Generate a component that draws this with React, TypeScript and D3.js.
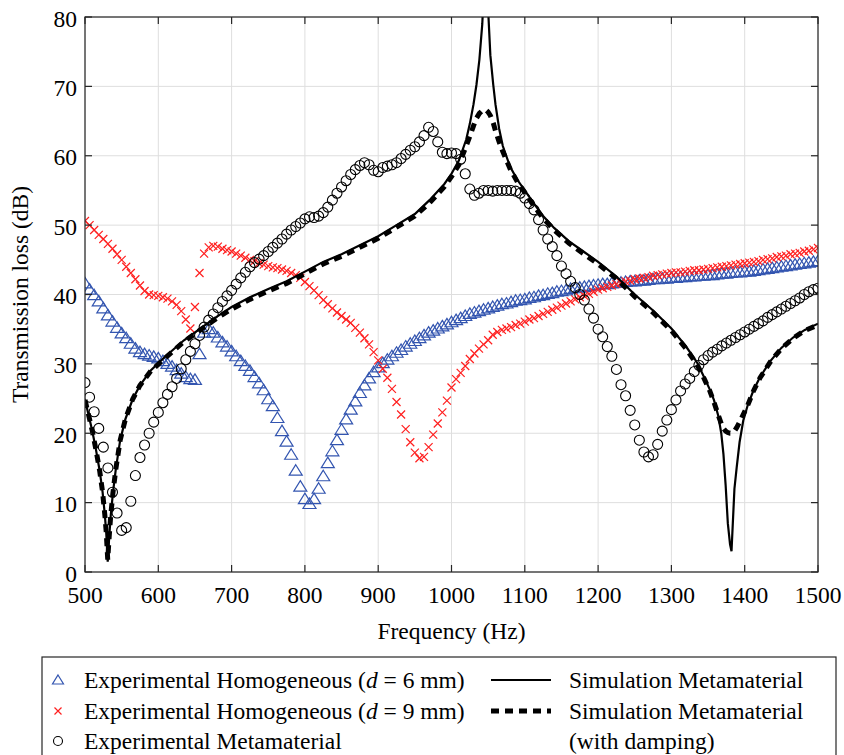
import React, { useEffect, useRef } from 'react';
import * as d3 from 'd3';

const W = 844;
const H = 755;
const font = '"Liberation Serif", "Times New Roman", serif';

// measured frequencies (Hz), 6.25 Hz step
const expFreq: number[] = d3.range(0, 161).map(i => 500 + i * 6.25);

// Experimental Homogeneous (d = 6 mm)
const homog6 = [
	41.6, 40.7, 39.9, 39.0, 38.0, 37.0, 36.1, 35.2,
	34.4, 33.7, 32.9, 32.2, 31.7, 31.4, 31.2, 31.0,
	30.8, 30.4, 30.0, 29.6, 29.1, 28.6, 28.1, 27.8,
	27.7, 31.4, 34.5, 35.0, 34.5, 33.8, 33.1, 32.5,
	31.8, 31.1, 30.4, 29.7, 29.0, 28.1, 27.2, 26.2,
	24.9, 23.9, 22.2, 20.3, 18.8, 16.9, 14.6, 12.3,
	10.5, 9.8, 10.5, 12.0, 13.8, 15.7, 17.4, 19.0,
	20.5, 22.0, 23.4, 24.6, 25.8, 26.9, 27.9, 28.8,
	29.5, 30.1, 30.6, 31.1, 31.6, 32.0, 32.5, 32.9,
	33.3, 33.7, 34.1, 34.5, 34.8, 35.1, 35.4, 35.7,
	36.0, 36.3, 36.6, 36.9, 37.2, 37.4, 37.6, 37.8,
	38.0, 38.2, 38.4, 38.6, 38.7, 38.9, 39.1, 39.2,
	39.3, 39.5, 39.6, 39.8, 39.9, 40.1, 40.2, 40.4,
	40.5, 40.6, 40.8, 40.9, 41.0, 41.1, 41.2, 41.3,
	41.4, 41.5, 41.5, 41.6, 41.7, 41.7, 41.8, 41.9,
	41.9, 42.0, 42.0, 42.1, 42.2, 42.2, 42.3, 42.3,
	42.4, 42.4, 42.5, 42.5, 42.6, 42.6, 42.7, 42.7,
	42.8, 42.8, 42.9, 43.0, 43.0, 43.1, 43.2, 43.2,
	43.3, 43.3, 43.4, 43.5, 43.6, 43.7, 43.8, 43.9,
	44.0, 44.1, 44.2, 44.3, 44.4, 44.5, 44.6, 44.7,
	44.8,
];

// Experimental Homogeneous (d = 9 mm)
const homog9 = [
	50.6, 50.0, 49.3, 48.6, 48.0, 47.3, 46.6, 45.8,
	45.0, 44.0, 43.1, 42.2, 41.3, 40.5, 40.0, 39.9,
	39.8, 39.6, 39.4, 39.0, 38.5, 37.6, 36.4, 35.1,
	38.2, 43.1, 45.9, 46.8, 47.0, 46.9, 46.6, 46.4,
	46.2, 45.9, 45.6, 45.3, 45.0, 44.8, 44.5, 44.3,
	44.1, 43.9, 43.8, 43.6, 43.4, 43.1, 42.8, 42.4,
	41.8, 41.2, 40.6, 39.9, 39.2, 38.6, 38.0, 37.4,
	36.9, 36.4, 35.9, 35.2, 34.5, 33.7, 32.8, 31.7,
	30.5, 29.3, 28.0, 26.4, 24.5, 22.7, 20.6, 18.7,
	17.2, 16.4, 16.6, 18.0, 19.8, 21.4, 23.0, 24.7,
	26.6, 27.8, 28.7, 29.7, 30.7, 31.5, 32.2, 32.8,
	33.4, 34.2, 34.6, 34.9, 35.1, 35.3, 35.6, 35.8,
	36.1, 36.4, 36.6, 36.9, 37.2, 37.5, 37.8, 38.1,
	38.4, 38.7, 39.0, 39.3, 39.6, 39.8, 40.1, 40.4,
	40.7, 40.9, 41.1, 41.3, 41.5, 41.7, 41.9, 42.0,
	42.2, 42.3, 42.4, 42.5, 42.7, 42.8, 42.9, 43.0,
	43.1, 43.2, 43.2, 43.3, 43.4, 43.5, 43.5, 43.6,
	43.7, 43.8, 43.9, 44.0, 44.1, 44.2, 44.3, 44.4,
	44.5, 44.6, 44.7, 44.8, 45.0, 45.1, 45.2, 45.4,
	45.5, 45.6, 45.8, 45.9, 46.0, 46.2, 46.3, 46.5,
	46.7,
];

// Experimental Metamaterial
const metaExp = [
	27.3, 25.2, 23.1, 20.7, 18.0, 15.0, 11.5, 8.5,
	6.0, 6.4, 10.2, 13.9, 16.5, 18.3, 20.0, 21.6,
	23.0, 24.4, 25.6, 26.7, 27.9, 29.3, 30.6, 31.8,
	32.9, 34.1, 35.3, 36.3, 37.2, 38.1, 39.0, 39.8,
	40.6, 41.5, 42.4, 43.2, 44.0, 44.6, 45.1, 45.6,
	46.2, 46.8, 47.4, 48.0, 48.7, 49.3, 49.8, 50.3,
	50.9, 51.2, 51.1, 51.3, 51.8, 52.6, 53.6, 54.6,
	55.5, 56.4, 57.3, 58.0, 58.6, 59.0, 58.7, 57.9,
	57.7, 58.3, 58.5, 58.7, 59.0, 59.6, 60.2, 60.8,
	61.3, 62.0, 62.9, 64.1, 63.5, 62.0, 60.5, 60.3,
	60.4, 60.3, 59.5, 57.4, 55.2, 54.3, 54.6, 55.0,
	55.0, 54.9, 55.0, 55.0, 55.0, 55.0, 54.9, 54.6,
	53.9, 53.1, 52.2, 50.8, 49.3, 48.0, 46.9, 45.6,
	44.1, 43.0, 41.9, 41.0, 40.0, 39.2, 37.9, 36.6,
	35.0, 33.9, 32.5, 31.1, 29.2, 27.0, 25.4, 23.3,
	21.2, 19.0, 17.3, 16.6, 16.9, 18.4, 20.3, 21.9,
	23.4, 24.8, 26.1, 27.1, 27.9, 28.9, 29.8, 30.6,
	31.2, 31.7, 32.1, 32.6, 33.0, 33.4, 33.8, 34.2,
	34.6, 35.0, 35.4, 35.8, 36.2, 36.7, 37.1, 37.5,
	37.9, 38.3, 38.7, 39.1, 39.5, 40.0, 40.4, 40.7,
	40.9,
];

// simulation curves
const simFreq = [
	500, 505, 510, 515, 520, 524, 527, 529, 531, 533, 535, 538, 542, 548, 555, 565, 575, 590,
	610, 635, 660, 680, 700, 725, 750, 775, 800, 825, 850, 875, 900, 925, 950, 970, 990,
	1000, 1010, 1020, 1025, 1030, 1034, 1038, 1042, 1045, 1047, 1050, 1053, 1057, 1060, 1065,
	1070, 1080, 1090, 1100, 1111, 1125, 1140, 1160, 1180, 1200, 1225, 1250, 1275, 1300, 1320,
	1335, 1345, 1352, 1358, 1364, 1368, 1371, 1374, 1377, 1380, 1382, 1386, 1389, 1393, 1398,
	1404, 1412, 1421, 1435, 1450, 1466, 1482, 1500,
];
const simPlain = [
	24.8, 22.6, 20.3, 17.6, 14.6, 11.5, 8.3, 5.6, 1.5, 5.0, 8.0, 11.3, 14.8, 19.0, 22.0, 24.9, 26.9, 29.1,
	31.1, 33.4, 35.3, 36.8, 38.2, 39.6, 40.8, 41.9, 43.3, 44.7, 45.8, 47.1, 48.4, 50.0, 51.6, 53.6, 55.9,
	57.4, 59.3, 62.3, 64.6, 67.4, 70.2, 73.8, 79.0, 86.0, 92.0, 81.0, 74.5, 70.2, 67.4, 63.9,
	61.4, 58.4, 56.5, 55.0, 53.3, 51.3, 49.6, 47.7, 46.2, 44.7, 42.6, 40.0, 37.7, 35.1, 32.5,
	30.2, 28.0, 26.4, 24.8, 22.5, 20.0, 17.0, 12.5, 7.0, 4.0, 3.0, 12.0, 15.0, 18.7, 21.8,
	24.0, 26.2, 28.1, 30.4, 32.3, 33.8, 34.9, 35.8,
];
const simDamped = [
	24.8, 22.6, 20.3, 17.6, 14.6, 11.5, 8.3, 5.7, 1.8, 5.1, 8.0, 11.3, 14.8, 19.0, 22.0, 24.9, 26.9, 29.0,
	30.9, 33.2, 35.1, 36.6, 37.9, 39.3, 40.5, 41.6, 43.0, 44.4, 45.5, 46.8, 48.1, 49.7, 51.3, 53.2, 55.5,
	57.0, 58.7, 61.4, 62.8, 64.3, 65.4, 66.1, 66.5, 66.6, 66.6, 66.3, 65.8, 64.7, 63.6, 62.0,
	60.6, 58.1, 56.2, 54.7, 53.0, 51.0, 49.3, 47.4, 45.9, 44.4, 42.3, 39.7, 37.4, 34.8, 32.2,
	29.9, 27.8, 26.2, 24.5, 22.6, 21.4, 20.7, 20.3, 20.1, 20.0, 20.0, 20.3, 20.8, 21.6, 22.7,
	24.0, 26.1, 28.0, 30.3, 32.2, 33.7, 34.8, 35.6,
];

const xTicks = [500, 600, 700, 800, 900, 1000, 1100, 1200, 1300, 1400, 1500];
const yTicks = [0, 10, 20, 30, 40, 50, 60, 70, 80];

const blue = '#3355b0';
const red = '#ff1f1f';
const axisColor = '#262626';

const triPath = 'M0,-6L6.5,4.5L-6.5,4.5Z';
const crossPath = 'M-4,-4L4,4M-4,4L4,-4';

export default function App() {
	const ref = useRef<SVGSVGElement>(null);

	useEffect(() => {
		const svg = d3.select(ref.current);
		svg.selectAll('*').remove();

		const x = d3.scaleLinear().domain([500, 1500]).range([85, 818]);
		const y = d3.scaleLinear().domain([0, 80]).range([572, 17]);
		const [x0, x1] = x.range();
		const [y0, y1] = y.range();

		svg.append('rect').attr('width', W).attr('height', H).attr('fill', '#fff');

		svg.append('clipPath')
			.attr('id', 'plotclip')
			.append('rect')
			.attr('x', x0)
			.attr('y', y1)
			.attr('width', x1 - x0)
			.attr('height', y0 - y1);

		// grid
		const grid = svg.append('g').attr('stroke', '#dedede').attr('stroke-width', 1);
		grid.selectAll('.gx')
			.data(xTicks)
			.enter()
			.append('line')
			.attr('x1', d => x(d))
			.attr('x2', d => x(d))
			.attr('y1', y0)
			.attr('y2', y1);
		grid.selectAll('.gy')
			.data(yTicks)
			.enter()
			.append('line')
			.attr('x1', x0)
			.attr('x2', x1)
			.attr('y1', d => y(d))
			.attr('y2', d => y(d));

		const plot = svg.append('g').attr('clip-path', 'url(#plotclip)');

		// blue triangles
		plot.append('g')
			.selectAll('path')
			.data(expFreq.map((f, i) => [f, homog6[i]]))
			.enter()
			.append('path')
			.attr('d', triPath)
			.attr('transform', d => `translate(${x(d[0])},${y(d[1])})`)
			.attr('fill', 'none')
			.attr('stroke', blue)
			.attr('stroke-width', 1.2);

		// red crosses
		plot.append('g')
			.selectAll('path')
			.data(expFreq.map((f, i) => [f, homog9[i]]))
			.enter()
			.append('path')
			.attr('d', crossPath)
			.attr('transform', d => `translate(${x(d[0])},${y(d[1])})`)
			.attr('fill', 'none')
			.attr('stroke', red)
			.attr('stroke-width', 1.2);

		// black circles
		plot.append('g')
			.selectAll('circle')
			.data(expFreq.map((f, i) => [f, metaExp[i]]))
			.enter()
			.append('circle')
			.attr('cx', d => x(d[0]))
			.attr('cy', d => y(d[1]))
			.attr('r', 5)
			.attr('fill', 'none')
			.attr('stroke', '#000')
			.attr('stroke-width', 1.1);

		const line = d3
			.line<number>()
			.x((d, i) => x(simFreq[i]))
			.y(d => y(d));

		plot.append('path')
			.attr('d', line(simPlain))
			.attr('fill', 'none')
			.attr('stroke', '#000')
			.attr('stroke-width', 2.2);
		plot.append('path')
			.attr('d', line(simDamped))
			.attr('fill', 'none')
			.attr('stroke', '#000')
			.attr('stroke-width', 5)
			.attr('stroke-dasharray', '8,6');

		// box + ticks
		const ax = svg.append('g').attr('stroke', axisColor).attr('stroke-width', 1.2).attr('fill', 'none');
		ax.append('rect')
			.attr('x', x0)
			.attr('y', y1)
			.attr('width', x1 - x0)
			.attr('height', y0 - y1);
		const tl = 7;
		xTicks.forEach(t => {
			ax.append('line').attr('x1', x(t)).attr('x2', x(t)).attr('y1', y0).attr('y2', y0 - tl);
			ax.append('line').attr('x1', x(t)).attr('x2', x(t)).attr('y1', y1).attr('y2', y1 + tl);
		});
		yTicks.forEach(t => {
			ax.append('line').attr('x1', x0).attr('x2', x0 + tl).attr('y1', y(t)).attr('y2', y(t));
			ax.append('line').attr('x1', x1).attr('x2', x1 - tl).attr('y1', y(t)).attr('y2', y(t));
		});

		// tick labels
		const labels = svg.append('g').style('font-family', font).style('font-size', '23.5px').attr('fill', '#000');
		labels.selectAll('.xl')
			.data(xTicks)
			.enter()
			.append('text')
			.attr('x', d => x(d))
			.attr('y', 603)
			.attr('text-anchor', 'middle')
			.text(d => d);
		labels.selectAll('.yl')
			.data(yTicks)
			.enter()
			.append('text')
			.attr('x', 77)
			.attr('y', d => y(d) + 9.5)
			.attr('text-anchor', 'end')
			.text(d => d);

		labels.append('text')
			.attr('x', (x0 + x1) / 2)
			.attr('y', 639)
			.attr('text-anchor', 'middle')
			.text('Frequency (Hz)');
		labels.append('text')
			.attr('transform', `translate(28,${(y0 + y1) / 2}) rotate(-90)`)
			.attr('text-anchor', 'middle')
			.text('Transmission loss (dB)');

		// legend
		const lg = svg.append('g');
		lg.append('rect')
			.attr('x', 42)
			.attr('y', 657)
			.attr('width', 794)
			.attr('height', 120)
			.attr('fill', '#fff')
			.attr('stroke', axisColor)
			.attr('stroke-width', 1.2);

		const rowY = [680, 711, 741];
		const lt = lg.append('g').style('font-family', font).style('font-size', '23.5px').attr('fill', '#000');

		lg.append('path')
			.attr('d', 'M0,-5L5.5,4L-5.5,4Z')
			.attr('transform', `translate(58,${rowY[0]})`)
			.attr('fill', 'none')
			.attr('stroke', blue)
			.attr('stroke-width', 1.2);
		lg.append('path')
			.attr('d', 'M-3.5,-3.5L3.5,3.5M-3.5,3.5L3.5,-3.5')
			.attr('transform', `translate(58,${rowY[1]})`)
			.attr('stroke', red)
			.attr('stroke-width', 1.2);
		lg.append('circle')
			.attr('cx', 58)
			.attr('cy', rowY[2])
			.attr('r', 4.5)
			.attr('fill', 'none')
			.attr('stroke', '#000')
			.attr('stroke-width', 1.1);

		const homText = (row: number, dval: string) => {
			const t = lt.append('text').attr('x', 84).attr('y', rowY[row] + 7.5);
			t.append('tspan').text('Experimental Homogeneous (');
			t.append('tspan').style('font-style', 'italic').text('d');
			t.append('tspan').text(` = ${dval} mm)`);
		};
		homText(0, '6');
		homText(1, '9');
		lt.append('text').attr('x', 84).attr('y', rowY[2] + 7.5).text('Experimental Metamaterial');

		lg.append('line')
			.attr('x1', 491)
			.attr('x2', 551)
			.attr('y1', rowY[0])
			.attr('y2', rowY[0])
			.attr('stroke', '#000')
			.attr('stroke-width', 2.2);
		lg.append('line')
			.attr('x1', 491)
			.attr('x2', 551)
			.attr('y1', rowY[1])
			.attr('y2', rowY[1])
			.attr('stroke', '#000')
			.attr('stroke-width', 5)
			.attr('stroke-dasharray', '8,6');

		lt.append('text').attr('x', 569).attr('y', rowY[0] + 7.5).text('Simulation Metamaterial');
		lt.append('text').attr('x', 569).attr('y', rowY[1] + 7.5).text('Simulation Metamaterial');
		lt.append('text').attr('x', 569).attr('y', rowY[2] + 7.5).text('(with damping)');
	}, []);

	return (
		<div style={{ position: 'absolute', left: 0, top: 0 }}>
			<svg ref={ref} width={W} height={H} style={{ display: 'block' }} />
		</div>
	);
}
